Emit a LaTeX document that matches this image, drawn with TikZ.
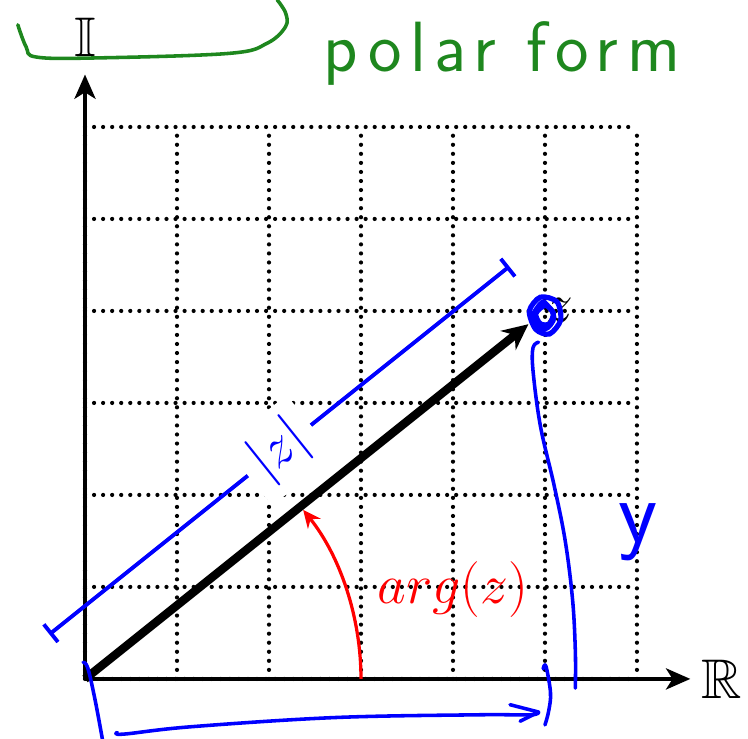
\documentclass[tikz,border=0pt]{standalone}
\usepackage{amsmath, amssymb}
\usepackage{fontspec}
\usetikzlibrary{positioning}
\usetikzlibrary{calc}
\usetikzlibrary{arrows.meta}

\definecolor{inkgreen}{RGB}{30,135,30}
\newfontfamily\inkfont[LetterSpace=12]{Latin Modern Sans}

\begin{document}
\begin{tikzpicture}[font=\LARGE,
    axis/.style={line width=1.3pt, -{Stealth[length=7.5pt, width=6.5pt, inset=2pt]}},
    gridline/.style={line width=1.3pt, line cap=round, dash pattern=on 0pt off 2.8pt},
    ink/.style={line width=1.1pt, line cap=round, line join=round}]

  \useasboundingbox (-0.924,-0.652) rectangle (7.207,7.38);

  \coordinate (O) at (0,0);
  \coordinate (xend) at (6.58,0);
  \coordinate (yend) at (0,6.57);

  \draw[gridline] (0,0) grid (6,6);

  \draw[axis] (O) -- (xend);
  \draw[axis] (O) -- (yend);
  \node[right=0pt of xend] (re) {$\mathbb{R}$};
  \node[above=2pt of yend] (im) {$\mathbb{I}$};

  \node[circle, inner sep=4.5pt] (z) at (5,4) {};
  \node[anchor=west, inner sep=0pt] (zlab) at (z.center) {$z$};

  % |z| bracket, parallel to the vector
  \coordinate (b1) at ($(O)+(128.66:0.62)$);
  \coordinate (b2) at ($(z.center)+(128.66:0.62)$);
  \draw[blue, line width=1.2pt, {Bar[width=7pt]}-{Bar[width=7pt]}] (b1) -- (b2);
  \node[fill=white, text=blue, rotate=38.66] (absz) at ($(b1)!0.5!(b2)$) {$|z|$};

  \draw[line width=2.6pt, -{Stealth[length=8pt, width=7.5pt]}] (O) -- (z);

  % angle
  \coordinate (a0) at (3,0);
  \draw[red, line width=1pt, shorten >=1.3pt, -{Stealth[length=5.5pt, width=5pt]}] (a0) arc (0:38.66:3);
  \node[text=red] (arglab) at (4,0.97) {$arg(z)$};

  % handwritten notes
  \draw[inkgreen, ink] plot[smooth, tension=0.6] coordinates {(-0.73,7.11) (-0.64,6.87) (-0.53,6.76) (0.11,6.75) (1.57,6.80) (1.98,6.91) (2.18,7.09) (2.18,7.24) (2.09,7.38)};
  \node[anchor=base, text=inkgreen, font=\inkfont\fontsize{22}{22}\selectfont] (note) at (4.53,6.6) {polar form};

  \draw[blue, ink] plot[smooth, tension=0.6] coordinates {(4.93,3.66) (4.87,3.6) (4.87,3.35) (4.95,2.75) (5.1,2.1) (5.22,1.5) (5.3,0.86) (5.33,0.3) (5.33,-0.1)};
  \draw[blue, ink] plot[smooth, tension=0.6] coordinates {(-0.02,0.18) (0.03,0.12) (0.11,-0.23) (0.19,-0.66)};
  \draw[blue, ink] plot[smooth, tension=0.6] coordinates {(0.35,-0.58) (0.42,-0.6) (1.15,-0.52) (2.71,-0.42) (4.26,-0.39) (4.84,-0.39) (4.93,-0.36)};
  \draw[blue, ink] (4.62,-0.28) -- (4.93,-0.36) -- (4.73,-0.46);
  \draw[blue, ink] plot[smooth, tension=0.6] coordinates {(4.98,0.11) (5.01,0.14) (5.06,-0.15) (5.04,-0.35) (5.0,-0.5)};
  \node[text=blue, font=\inkfont\fontsize{28}{28}\selectfont] (hwy) at (6.01,1.6) {y};

  \draw[blue, line width=1.6pt] plot[smooth cycle] coordinates {(4.83,4.0) (4.95,4.15) (5.13,4.1) (5.17,3.9) (5.05,3.75) (4.9,3.8)};
  \draw[blue, line width=1.6pt] plot[smooth cycle] coordinates {(4.9,3.97) (5.0,4.06) (5.09,3.98) (5.05,3.86) (4.95,3.86)};
  \draw[blue, line width=1.4pt] plot[smooth cycle] coordinates {(4.86,3.92) (4.98,4.1) (5.1,3.93) (5.0,3.8)};

\end{tikzpicture}
\end{document}
